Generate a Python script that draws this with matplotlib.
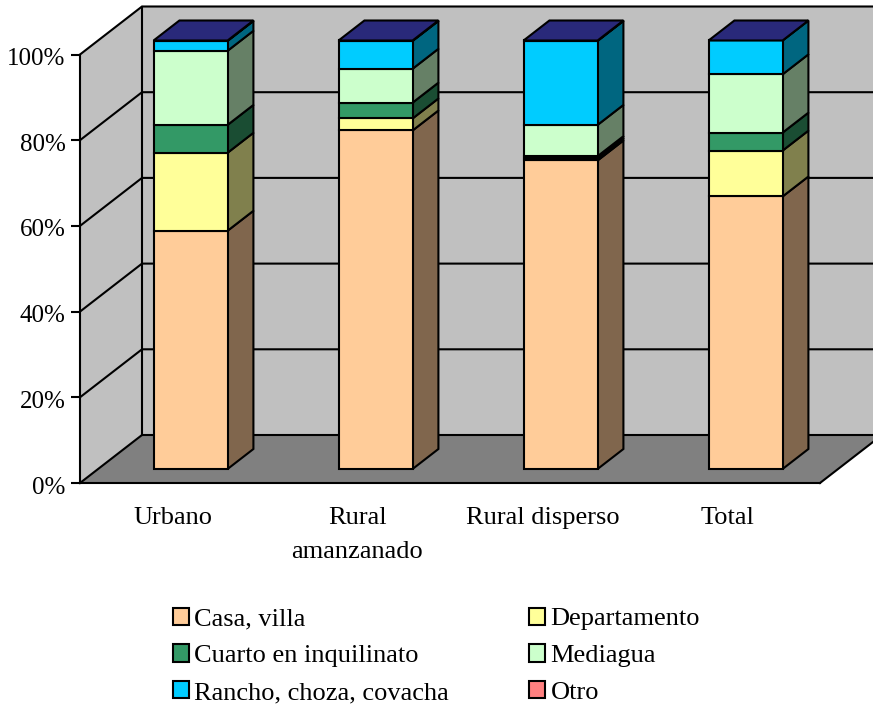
import numpy as np
import matplotlib.pyplot as plt
from matplotlib.patches import Polygon, Patch
from matplotlib.ticker import PercentFormatter
from matplotlib.transforms import ScaledTranslation

plt.rcParams['font.family'] = ['Liberation Serif', 'DejaVu Serif']

categories = ['Urbano', 'Rural\namanzanado', 'Rural disperso', 'Total']
series = ['Casa, villa', 'Departamento', 'Cuarto en inquilinato',
          'Mediagua', 'Rancho, choza, covacha', 'Otro']

casa = [55.6, 79.0, 72.0, 63.6]
departamento = [18.2, 2.8, 0.5, 10.7]
cuarto = [6.5, 3.7, 0.5, 4.2]
mediagua = [17.3, 7.9, 7.3, 13.6]
rancho = [2.3, 6.5, 19.6, 7.9]
otro = [0.1, 0.1, 0.1, 0.0]

values = [casa, departamento, cuarto, mediagua, rancho, otro]
colors = ['#FFCC99', '#FFFF99', '#339966', '#CCFFCC', '#00CCFF', '#FF8080']
top_color = '#29297A'

W, H = 873, 705
LW = 1.5

fig = plt.figure(figsize=(W / 100, H / 100), dpi=100)
# plot area = front plane of the 3d box
ax = fig.add_axes([80 / W, 1 - 483 / H, 740 / W, 428.5 / H])
ax.set_xlim(0, 4)
ax.set_ylim(0, 100)
ax.patch.set_visible(False)

# depth of the box in data units
dx = 62 / 185
dy = 48 / 4.285
d0, d1 = 14 / 48, 34 / 48  # bars start/end in the depth
bar_w = 0.4


def poly(pts, color, z, lw=LW, edge='black'):
    ax.add_patch(Polygon(pts, closed=True, facecolor=color, edgecolor=edge,
                         linewidth=lw, zorder=z, clip_on=False, joinstyle='miter'))


# walls and floor
poly([(0, 0), (dx, dy), (4 + dx, dy), (4 + dx, 100 + dy), (dx, 100 + dy)], '#C0C0C0', 1, lw=0)
poly([(0, 0), (dx, dy), (dx, 100 + dy), (0, 100)], '#C0C0C0', 1, lw=0)
poly([(0, 0), (4, 0), (4 + dx, dy), (dx, dy)], '#808080', 1, lw=0)

ticks = np.arange(0, 101, 20)
for t in ticks:
    ax.plot([0, dx, 4 + dx], [t, t + dy, t + dy], color='black', lw=LW, zorder=2,
            clip_on=False, solid_joinstyle='miter')
ax.plot([dx, dx], [dy, 100 + dy], color='black', lw=LW, zorder=2, clip_on=False)
ax.plot([4, 4 + dx], [0, dy], color='black', lw=LW, zorder=2, clip_on=False)

# bars, back to front of the stack
for i in range(len(categories)):
    x0 = i + 0.5 - bar_w / 2 + d0 * dx
    x1 = x0 + bar_w
    y_off = d0 * dy
    depth_x = (d1 - d0) * dx
    depth_y = (d1 - d0) * dy
    bottom = 0
    for vals, c in zip(values, colors):
        top = bottom + vals[i]
        side = tuple(0.5 * v for v in plt.matplotlib.colors.to_rgb(c))
        poly([(x1, bottom + y_off), (x1 + depth_x, bottom + y_off + depth_y),
              (x1 + depth_x, top + y_off + depth_y), (x1, top + y_off)], side, 3)
        poly([(x0, bottom + y_off), (x1, bottom + y_off), (x1, top + y_off), (x0, top + y_off)], c, 3)
        bottom = top
    poly([(x0, bottom + y_off), (x1, bottom + y_off),
          (x1 + depth_x, bottom + y_off + depth_y), (x0 + depth_x, bottom + y_off + depth_y)], top_color, 3)

for s in ['top', 'right']:
    ax.spines[s].set_visible(False)
for s in ['left', 'bottom']:
    ax.spines[s].set_linewidth(LW)
    ax.spines[s].set_zorder(5)

ax.set_yticks(ticks)
ax.yaxis.set_major_formatter(PercentFormatter(100, decimals=0))
ax.tick_params(axis='y', length=6.5, width=LW, labelsize=18, pad=4)
# labels sit a little under their ticks
shift = ScaledTranslation(0, -2 / 100, fig.dpi_scale_trans)
for lab in ax.get_yticklabels():
    lab.set_transform(lab.get_transform() + shift)
ax.set_xticks(np.arange(4) + 0.5)
ax.set_xticklabels(categories, linespacing=1.7, verticalalignment='top')
ax.tick_params(axis='x', length=0, labelsize=19, pad=17.5)

order = [0, 2, 4, 1, 3, 5]
handles = [Patch(facecolor=colors[k], edgecolor='black', linewidth=LW) for k in order]
labels = [series[k] for k in order]
fig.legend(handles, labels, ncol=2, loc='upper left', bbox_to_anchor=(170 / W, 1 - 605 / H),
           frameon=False, fontsize=19, handlelength=0.62, handleheight=0.62,
           handletextpad=0.2, labelspacing=0.53, columnspacing=3.03,
           borderpad=0.1, borderaxespad=0)

fig.savefig('out.png', dpi=100)
